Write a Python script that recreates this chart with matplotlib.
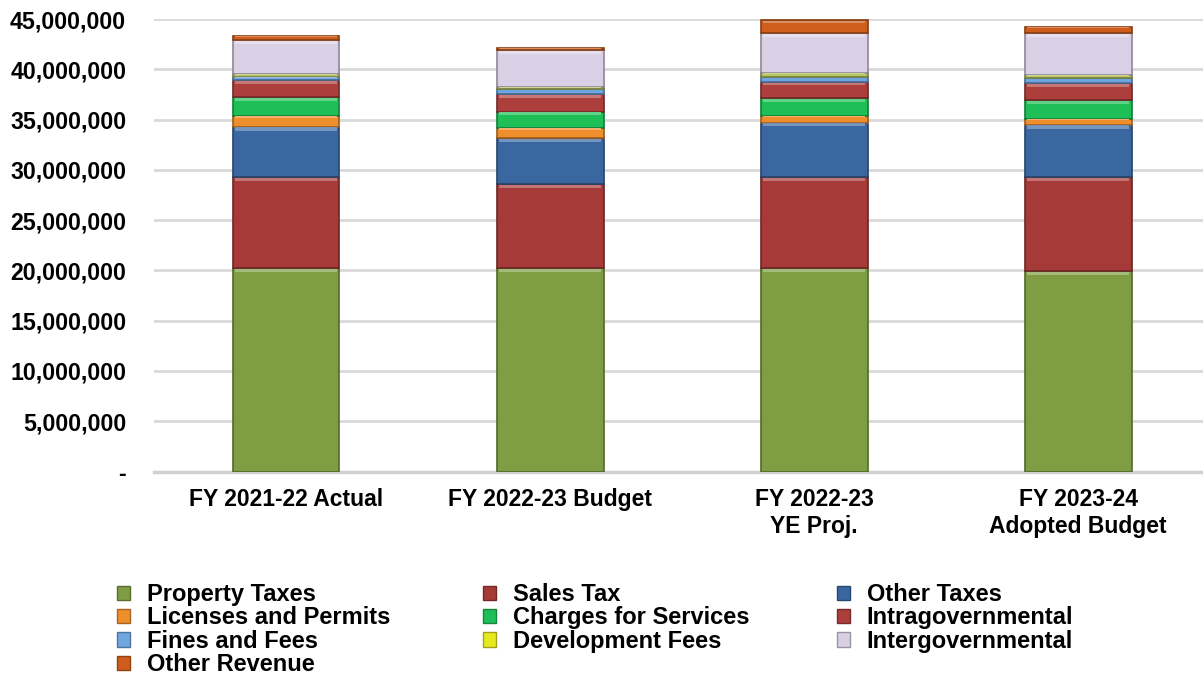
import numpy as np
import matplotlib
matplotlib.use("Agg")
import matplotlib.pyplot as plt
from matplotlib.patches import Patch
from matplotlib.colors import to_rgb

plt.rcParams['font.family'] = ['Liberation Sans', 'DejaVu Sans']
plt.rcParams['font.weight'] = 'bold'

# Data (millions)
years = ["FY 2021-22 Actual", "FY 2022-23 Budget", "FY 2022-23\nYE Proj.", "FY 2023-24\nAdopted Budget"]
property_taxes = [20.2, 20.2, 20.2, 19.9]
sales_tax = [9.1, 8.4, 9.1, 9.4]
other_taxes = [5.0, 4.6, 5.4, 5.2]
licenses = [1.1, 1.0, 0.7, 0.6]
charges = [1.8, 1.6, 1.7, 1.8]
intragov = [1.7, 1.7, 1.6, 1.7]
fines = [0.3, 0.5, 0.5, 0.5]
dev_fees = [0.3, 0.2, 0.4, 0.3]
intergov = [3.4, 3.7, 4.0, 4.2]
other_rev = [0.4, 0.2, 1.3, 0.6]

names = ["Property Taxes", "Sales Tax", "Other Taxes", "Licenses and Permits",
         "Charges for Services", "Intragovernmental", "Fines and Fees",
         "Development Fees", "Intergovernmental", "Other Revenue"]
series = [property_taxes, sales_tax, other_taxes, licenses, charges,
          intragov, fines, dev_fees, intergov, other_rev]
colors = ["#7F9E44", "#A63A38", "#3B67A0", "#EE8E2C", "#1FBF57",
          "#AC3E3C", "#6EA6E0", "#B9C462", "#D9D0E6", "#CF5E1C"]
legend_colors = colors[:7] + ["#E8E820"] + colors[8:]


def shade(c, f):
    r, g, b = to_rgb(c)
    if f > 0:
        return (r + (1 - r) * f, g + (1 - g) * f, b + (1 - b) * f)
    return (r * (1 + f), g * (1 + f), b * (1 + f))


fig = plt.figure(figsize=(12.03, 6.9), dpi=100)
ax = fig.add_axes([154 / 1203, 218.5 / 690, 1049 / 1203, 452.5 / 690])

x = np.arange(len(years))
width = 0.405
bottom = np.zeros(len(years))
for vals, col in zip(series, colors):
    v = np.array(vals) * 1e6
    ax.bar(x, v, width, bottom=bottom, color=col,
           edgecolor=shade(col, -0.35), linewidth=1.2, zorder=3)
    # light bevel strip along top of each segment
    hl = np.minimum(v * 0.15, 0.3e6)
    ax.bar(x, hl, width * 0.96, bottom=bottom + v - hl * 1.3,
           color=shade(col, 0.3), linewidth=0, zorder=4)
    bottom += v

ax.set_xlim(-0.5, 3.473)
ax.set_ylim(0, 45e6)
ax.set_yticks(np.arange(0, 45e6 + 1, 5e6))
ax.set_yticklabels(["-"] + [f"{int(t):,}" for t in np.arange(5e6, 45e6 + 1, 5e6)])
ax.set_xticks(x)
ax.set_xticklabels(years)
ax.tick_params(axis='y', length=0, pad=20, labelsize=16.7)
ax.tick_params(axis='x', length=0, pad=12, labelsize=16.5)
ax.grid(axis='y', color='#D9D9D9', linewidth=2, zorder=0)
for s in ['top', 'right', 'left']:
    ax.spines[s].set_visible(False)
ax.spines['bottom'].set_color('#D0D0D0')
ax.spines['bottom'].set_linewidth(2.5)

handles = [Patch(facecolor=c, edgecolor=shade(c, -0.3), linewidth=1) for c in legend_colors]
cols = [[0, 3, 6, 9], [1, 4, 7], [2, 5, 8]]
xpos = [117 / 1203, 483 / 1203, 837 / 1203]
for idx, xp in zip(cols, xpos):
    fig.legend([handles[i] for i in idx], [names[i] for i in idx],
               loc='upper left', bbox_to_anchor=(xp, 1 - 583 / 690),
               frameon=False, fontsize=17, handlelength=0.55, handleheight=0.55,
               handletextpad=0.7, labelspacing=0.02, borderpad=0, borderaxespad=0)

fig.savefig("out.png", dpi=100)
